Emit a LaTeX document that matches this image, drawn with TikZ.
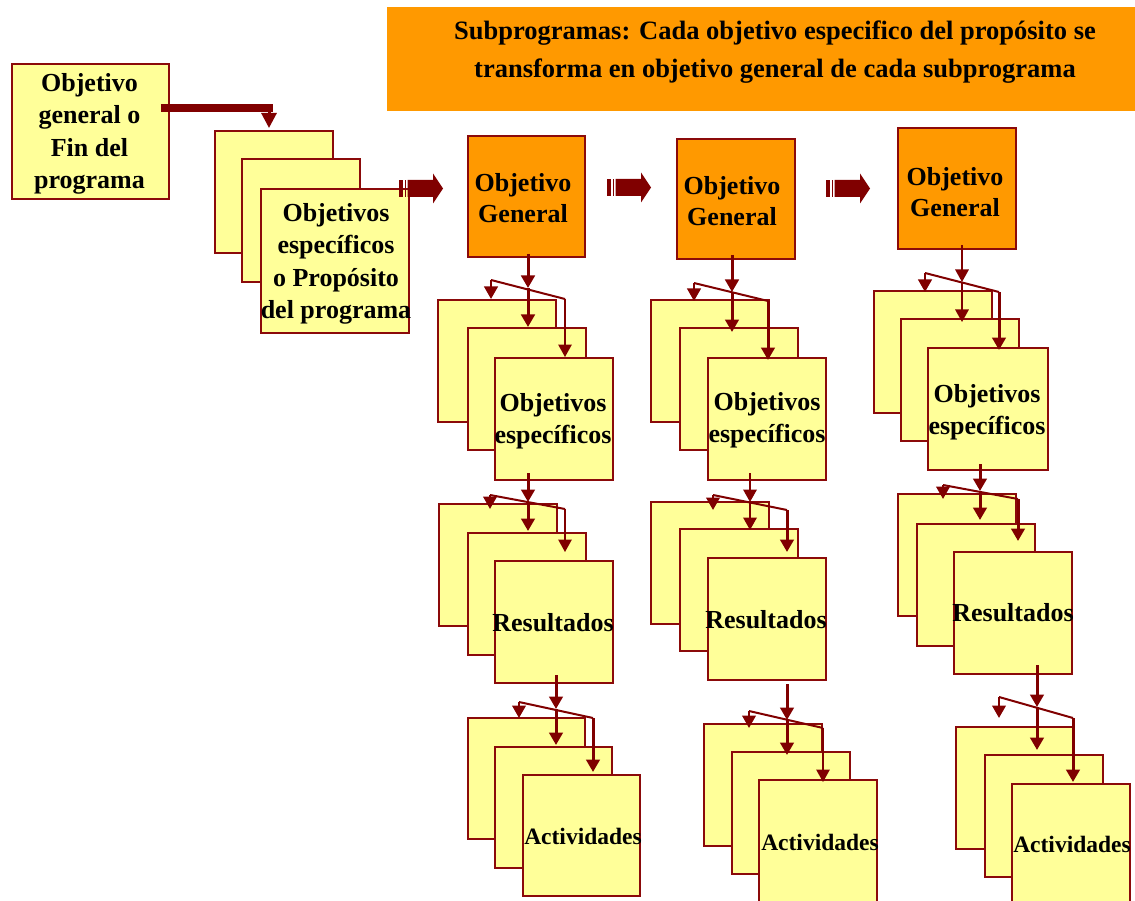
\documentclass[tikz,border=0pt]{standalone}
\usepackage{fontspec}
\setmainfont{Liberation Serif}
\usetikzlibrary{arrows.meta,calc}
\definecolor{edge}{HTML}{8B0A0A}
\definecolor{wire}{HTML}{800000}
\definecolor{paper}{HTML}{FFFF99}
\definecolor{amber}{HTML}{FF9900}
\tikzset{
  card/.style={draw=edge, line width=1.8pt, fill=paper, anchor=north west,
    inner sep=0pt, minimum width=118pt, minimum height=122pt},
  goal/.style={card, fill=amber},
  lbl/.style={align=center, inner sep=0pt, font=\fontsize{26}{32.5}\selectfont\bfseries},
  small/.style={lbl, font=\fontsize{23.5}{28}\selectfont\bfseries},
  headed/.style={-{Triangle[length=12.5pt,width=13.5pt]}},
  blockarrow/.pic={
    \fill[wire] (0,-8.5) rectangle (3.5,8.5);
    \fill[wire] (5.5,-8.5) rectangle (7,8.5);
    \fill[wire] (8.5,-8.5) -- (34,-8.5) -- (34,-15) -- (44,0) -- (34,15)
      -- (34,8.5) -- (8.5,8.5) -- cycle;
  }
}
\begin{document}
\begin{tikzpicture}[x=1pt,y=-1pt]
\useasboundingbox (0,0) rectangle (1135,901);

% heading banner
\node[fill=amber, anchor=north west, minimum width=748pt, minimum height=104pt,
  inner sep=0pt] (banner) at (387,7) {};
\node[lbl, font=\fontsize{26.5}{38}\selectfont\bfseries] (banner-t) at (775,52)
  {Subprogramas: Cada objetivo especifico del propósito se\\transforma en objetivo general de cada subprograma};

% programme goal and its specific objectives
\node[card, minimum width=157pt, minimum height=135pt] (fin) at (11,63) {};
\node[card] (pb) at (214,130) {};
\node[card, minimum height=123pt] (pm) at (241,158) {};
\node[card, minimum width=148pt, minimum height=144pt] (pf) at (260,188) {};

% general objectives of the subprogrammes
\node[goal, minimum width=117pt, minimum height=121pt] (og1) at (467,135) {};
\node[goal, minimum height=120pt] (og2) at (676,138) {};
\node[goal, minimum height=121pt] (og3) at (897,127) {};

% column 1 stacks
\node[card] (e1b) at (437,299) {};
\node[card] (e1m) at (467,327) {};
\node[card] (e1f) at (494,357) {};
\node[card] (r1b) at (438,503) {};
\node[card] (r1m) at (467,532) {};
\node[card] (r1f) at (494,560) {};
\node[card, minimum width=117pt, minimum height=121pt] (a1b) at (467,717) {};
\node[card, minimum width=117pt, minimum height=121pt] (a1m) at (494,746) {};
\node[card, minimum width=117pt, minimum height=121pt] (a1f) at (522,774) {};

% column 2 stacks
\node[card] (e2b) at (650,299) {};
\node[card] (e2m) at (679,327) {};
\node[card] (e2f) at (707,357) {};
\node[card] (r2b) at (650,501) {};
\node[card] (r2m) at (679,528) {};
\node[card] (r2f) at (707,557) {};
\node[card] (a2b) at (703,723) {};
\node[card] (a2m) at (731,751) {};
\node[card] (a2f) at (758,779) {};

% column 3 stacks
\node[card] (e3b) at (873,290) {};
\node[card] (e3m) at (900,318) {};
\node[card, minimum width=120pt] (e3f) at (927,347) {};
\node[card] (r3b) at (897,493) {};
\node[card] (r3m) at (916,523) {};
\node[card] (r3f) at (953,551) {};
\node[card] (a3b) at (955,726) {};
\node[card] (a3m) at (984,754) {};
\node[card] (a3f) at (1011,783) {};

% labels
\node[lbl] (fin-t) at (89.5,134) {Objetivo\\general o\\Fin del\\programa};
\node[lbl] (pf-t) at (336,264) {Objetivos\\específicos\\o Propósito\\del programa};
\node[lbl, font=\fontsize{26}{31}\selectfont\bfseries] (og1-t) at (523,198) {Objetivo\\General};
\node[lbl, font=\fontsize{26}{31}\selectfont\bfseries] (og2-t) at (732,201.5) {Objetivo\\General};
\node[lbl, font=\fontsize{26}{31}\selectfont\bfseries] (og3-t) at (955,192) {Objetivo\\General};
\node[lbl, font=\fontsize{26}{32}\selectfont\bfseries] (e1-t) at (553,421) {Objetivos\\específicos};
\node[lbl, font=\fontsize{26}{32}\selectfont\bfseries] (e2-t) at (767,420) {Objetivos\\específicos};
\node[lbl, font=\fontsize{26}{32}\selectfont\bfseries] (e3-t) at (987,412) {Objetivos\\específicos};
\node[lbl] (r1-t) at (553,623) {Resultados};
\node[lbl] (r2-t) at (766,620) {Resultados};
\node[lbl] (r3-t) at (1013,613) {Resultados};
\node[small] (a1-t) at (583,836) {Actividades};
\node[small] (a2-t) at (820,842) {Actividades};
\node[small] (a3-t) at (1072,844) {Actividades};

% elbow connector from the programme goal to its objectives
\draw[wire, line width=8pt] ($(fin.north east)+(-9,45)$) -- ($(pb.north west)+(59,-22)$);
\draw[wire, line width=3pt, -{Triangle[length=15pt,width=15pt]}]
  ($(pb.north west)+(55,-24)$) -- ($(pb.north west)+(55,-2)$);

% block arrows between the subprogrammes
\pic at (399,188.5) {blockarrow};
\pic at (607,187.5) {blockarrow};
\pic at (826,188.5) {blockarrow};

% fan-out connectors: main line with two heads, slanted bar with two drops
\foreach \mx/\ya/\yb/\yc/\lx/\ly/\rx/\ry/\rt/\mw/\rw in {
  528/254/288/327/491/280/565/299/357/3/1.5,
  528/473/502/531/490/495/565/509/552/3/1.5,
  556/675/709/745/519/702/593/718/772/3/3,
  732/255/292/332/694/283/768/301/360/3/3,
  750/473/502/530/713/495/787/510/552/2/3,
  787/684/720/755/749/711/823/728/782/3/1.5,
  962/245/282/322/925/273/999/292/350/1.5/3,
  980/464/491/520/943/485/1018/499/541/3/3,
  1037/665/707/750/999/697/1073/718/782/3/3}{
  \draw[wire, line width=\mw pt, headed] (\mx,\ya) -- (\mx,\yb);
  \draw[wire, line width=\mw pt, headed] (\mx,\yb) -- (\mx,\yc);
  \draw[wire, line width=2pt] (\lx,\ly) -- (\rx,\ry);
  \draw[wire, line width=2.5pt, headed] (\lx,\ly) -- (\lx,\ry);
  \draw[wire, line width=\rw pt, headed] (\rx,\ry) -- (\rx,\rt);
}
\end{tikzpicture}
\end{document}
